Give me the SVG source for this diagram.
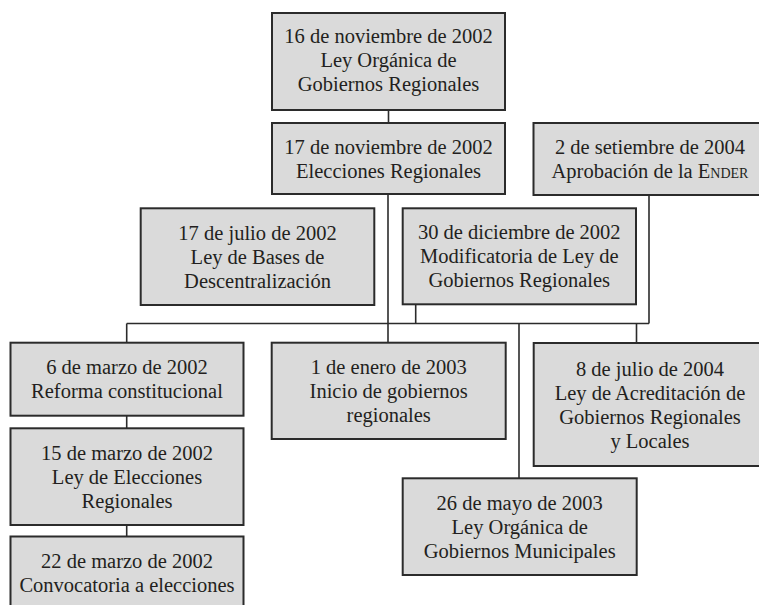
<svg xmlns="http://www.w3.org/2000/svg" width="759" height="605" viewBox="0 0 759 605">
<style>
.box{fill:#dadada;stroke:#2b2b2b;stroke-width:2}
.t{font-family:"Liberation Serif","Times New Roman",serif;font-size:20.5px;fill:#231f20;text-anchor:middle}
.sc{font-variant:small-caps}
.ln{fill:none;stroke:#2b2b2b;stroke-width:1.6}
</style>
<rect x="0" y="0" width="759" height="605" fill="#ffffff"/>
<g id="connectors">
<line class="ln" x1="388.5" y1="110" x2="388.5" y2="123"/>
<line class="ln" x1="388" y1="194" x2="388" y2="342.7"/>
<line class="ln" x1="126.7" y1="323.5" x2="649" y2="323.5"/>
<line class="ln" x1="126.7" y1="323.5" x2="126.7" y2="342.7"/>
<line class="ln" x1="126.7" y1="415.7" x2="126.7" y2="428.3"/>
<line class="ln" x1="126.7" y1="525" x2="126.7" y2="536.5"/>
<line class="ln" x1="415.7" y1="304.3" x2="415.7" y2="323.5"/>
<line class="ln" x1="519" y1="323.5" x2="519" y2="478.3"/>
<line class="ln" x1="636.5" y1="323.5" x2="636.5" y2="343"/>
<line class="ln" x1="649" y1="195" x2="649" y2="323.5"/>
</g>
<g id="n1">
<rect class="box" x="272" y="13" width="233" height="97"/>
<text class="t" x="388.5" y="42.5"><tspan x="388.5">16 de noviembre de 2002</tspan><tspan x="388.5" dy="24">Ley Orgánica de</tspan><tspan x="388.5" dy="24">Gobiernos Regionales</tspan></text>
</g>
<g id="n2">
<rect class="box" x="272" y="123" width="233" height="71"/>
<text class="t" x="388.5" y="153.5"><tspan x="388.5">17 de noviembre de 2002</tspan><tspan x="388.5" dy="24">Elecciones Regionales</tspan></text>
</g>
<g id="ender">
<rect class="box" x="533.5" y="123" width="233" height="72"/>
<text class="t" x="650" y="154"><tspan x="650">2 de setiembre de 2004</tspan><tspan x="650" dy="24">Aprobación de la <tspan class="sc">Ender</tspan></tspan></text>
</g>
<g id="julio2002">
<rect class="box" x="140.7" y="208.3" width="233.6" height="96.7"/>
<text class="t" x="257.5" y="239.7"><tspan x="257.5">17 de julio de 2002</tspan><tspan x="257.5" dy="24">Ley de Bases de</tspan><tspan x="257.5" dy="24">Descentralización</tspan></text>
</g>
<g id="dic2002">
<rect class="box" x="402.7" y="208.3" width="233.3" height="96"/>
<text class="t" x="519.3" y="239.3"><tspan x="519.3">30 de diciembre de 2002</tspan><tspan x="519.3" dy="24">Modificatoria de Ley de</tspan><tspan x="519.3" dy="24">Gobiernos Regionales</tspan></text>
</g>
<g id="marzo6">
<rect class="box" x="10.5" y="342.7" width="233" height="73"/>
<text class="t" x="127" y="374.2"><tspan x="127">6 de marzo de 2002</tspan><tspan x="127" dy="24">Reforma constitucional</tspan></text>
</g>
<g id="enero2003">
<rect class="box" x="271.7" y="342.7" width="234" height="96.3"/>
<text class="t" x="388.7" y="373.9"><tspan x="388.7">1 de enero de 2003</tspan><tspan x="388.7" dy="24">Inicio de gobiernos</tspan><tspan x="388.7" dy="24">regionales</tspan></text>
</g>
<g id="julio2004">
<rect class="box" x="533.7" y="343" width="233" height="123"/>
<text class="t" x="650" y="375.5"><tspan x="650">8 de julio de 2004</tspan><tspan x="650" dy="24">Ley de Acreditación de</tspan><tspan x="650" dy="24">Gobiernos Regionales</tspan><tspan x="650" dy="24">y Locales</tspan></text>
</g>
<g id="marzo15">
<rect class="box" x="10.5" y="428.3" width="233" height="96.7"/>
<text class="t" x="127" y="459.7"><tspan x="127">15 de marzo de 2002</tspan><tspan x="127" dy="24">Ley de Elecciones</tspan><tspan x="127" dy="24">Regionales</tspan></text>
</g>
<g id="marzo22">
<rect class="box" x="10.5" y="536.5" width="233" height="72"/>
<text class="t" x="127" y="567.5"><tspan x="127">22 de marzo de 2002</tspan><tspan x="127" dy="24">Convocatoria a elecciones</tspan></text>
</g>
<g id="mayo2003">
<rect class="box" x="402.7" y="478.3" width="234" height="96.7"/>
<text class="t" x="519.7" y="509.7"><tspan x="519.7">26 de mayo de 2003</tspan><tspan x="519.7" dy="24">Ley Orgánica de</tspan><tspan x="519.7" dy="24">Gobiernos Municipales</tspan></text>
</g>
</svg>
